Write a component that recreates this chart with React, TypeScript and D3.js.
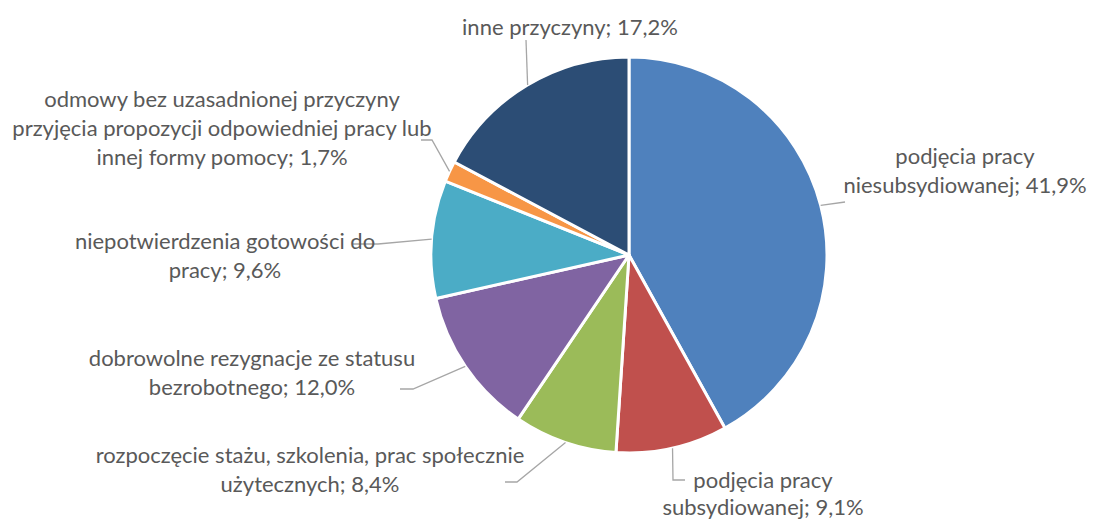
import React from "react";
import * as d3 from "d3";

const categories: string[] = [
  "podjęcia pracy niesubsydiowanej",
  "podjęcia pracy subsydiowanej",
  "rozpoczęcie stażu, szkolenia, prac społecznie użytecznych",
  "dobrowolne rezygnacje ze statusu bezrobotnego",
  "niepotwierdzenia gotowości do pracy",
  "odmowy bez uzasadnionej przyczyny przyjęcia propozycji odpowiedniej pracy lub innej formy pomocy",
  "inne przyczyny",
];
const values: number[] = [41.9, 9.1, 8.4, 12.0, 9.6, 1.7, 17.2];
const valueLabels: string[] = ["41,9%", "9,1%", "8,4%", "12,0%", "9,6%", "1,7%", "17,2%"];
const colors: string[] = ["#4F81BD", "#C0504D", "#9BBB59", "#8064A2", "#4BACC6", "#F79646", "#2C4D75"];

// label layout: wrapped lines, center x, first baseline y, leader path points (after arc point)
const labelLines: string[][] = [
  ["podjęcia pracy", "niesubsydiowanej; 41,9%"],
  ["podjęcia pracy", "subsydiowanej; 9,1%"],
  ["rozpoczęcie stażu, szkolenia, prac społecznie", "użytecznych; 8,4%"],
  ["dobrowolne rezygnacje ze statusu", "bezrobotnego; 12,0%"],
  ["niepotwierdzenia gotowości do", "pracy; 9,6%"],
  ["odmowy bez uzasadnionej przyczyny", "przyjęcia propozycji odpowiedniej pracy lub", "innej formy pomocy; 1,7%"],
  ["inne przyczyny; 17,2%"],
];
const labelX: number[] = [965, 763, 310, 252, 225, 222, 570];
const labelY: number[] = [164, 488, 463, 366, 249, 107, 35];
const labelLineGap: number[] = [29, 27, 29, 29, 29, 29, 29];
const leaderAngleDeg: number[] = [75.5, 167.3, 198.7, 235.8, 274.6, 295, 329.2];
const leaderBends: [number, number][][] = [
  [[845, 202]],
  [[673, 480], [685, 480]],
  [[517, 482], [505, 482]],
  [[413, 389], [400, 389]],
  [[378, 244], [353, 244]],
  [[432, 140], [421, 140]],
  [[526, 40]],
];

export default function App() {
  const width = 1112;
  const height = 521;
  const cx = 629;
  const cy = 255;
  const r = 198;

  const pie = d3.pie<number>().sort(null).value((d) => d);
  const arcs = pie(values);
  const arcGen = d3.arc<d3.PieArcDatum<number>>().innerRadius(0).outerRadius(r);
  const line = d3.line();

  return (
    <svg width={width} height={height} style={{ position: "absolute", left: 0, top: 0 }}>
      <rect width={width} height={height} fill="#ffffff" />
      <g transform={`translate(${cx},${cy})`}>
        {arcs.map((a, i) => (
          <path key={i} d={arcGen(a) || ""} fill={colors[i]} stroke="#ffffff" strokeWidth={3} strokeLinejoin="round">
            <title>{categories[i] + "; " + valueLabels[i]}</title>
          </path>
        ))}
      </g>
      {leaderBends.map((pts, i) => {
        const ang = (leaderAngleDeg[i] * Math.PI) / 180;
        const start: [number, number] = [cx + r * Math.sin(ang), cy - r * Math.cos(ang)];
        return (
          <path key={"l" + i} d={line([start, ...pts]) || ""} fill="none" stroke="#A6A6A6" strokeWidth={1.3} />
        );
      })}
      {labelLines.map((lines, i) => (
        <text
          key={"t" + i}
          x={labelX[i]}
          y={labelY[i]}
          textAnchor="middle"
          fontFamily="Lato, 'Open Sans', sans-serif"
          fontSize={22}
          fill="#595959"
        >
          {lines.map((ln, j) => (
            <tspan key={j} x={labelX[i]} dy={j === 0 ? 0 : labelLineGap[i]}>
              {ln}
            </tspan>
          ))}
        </text>
      ))}
    </svg>
  );
}
